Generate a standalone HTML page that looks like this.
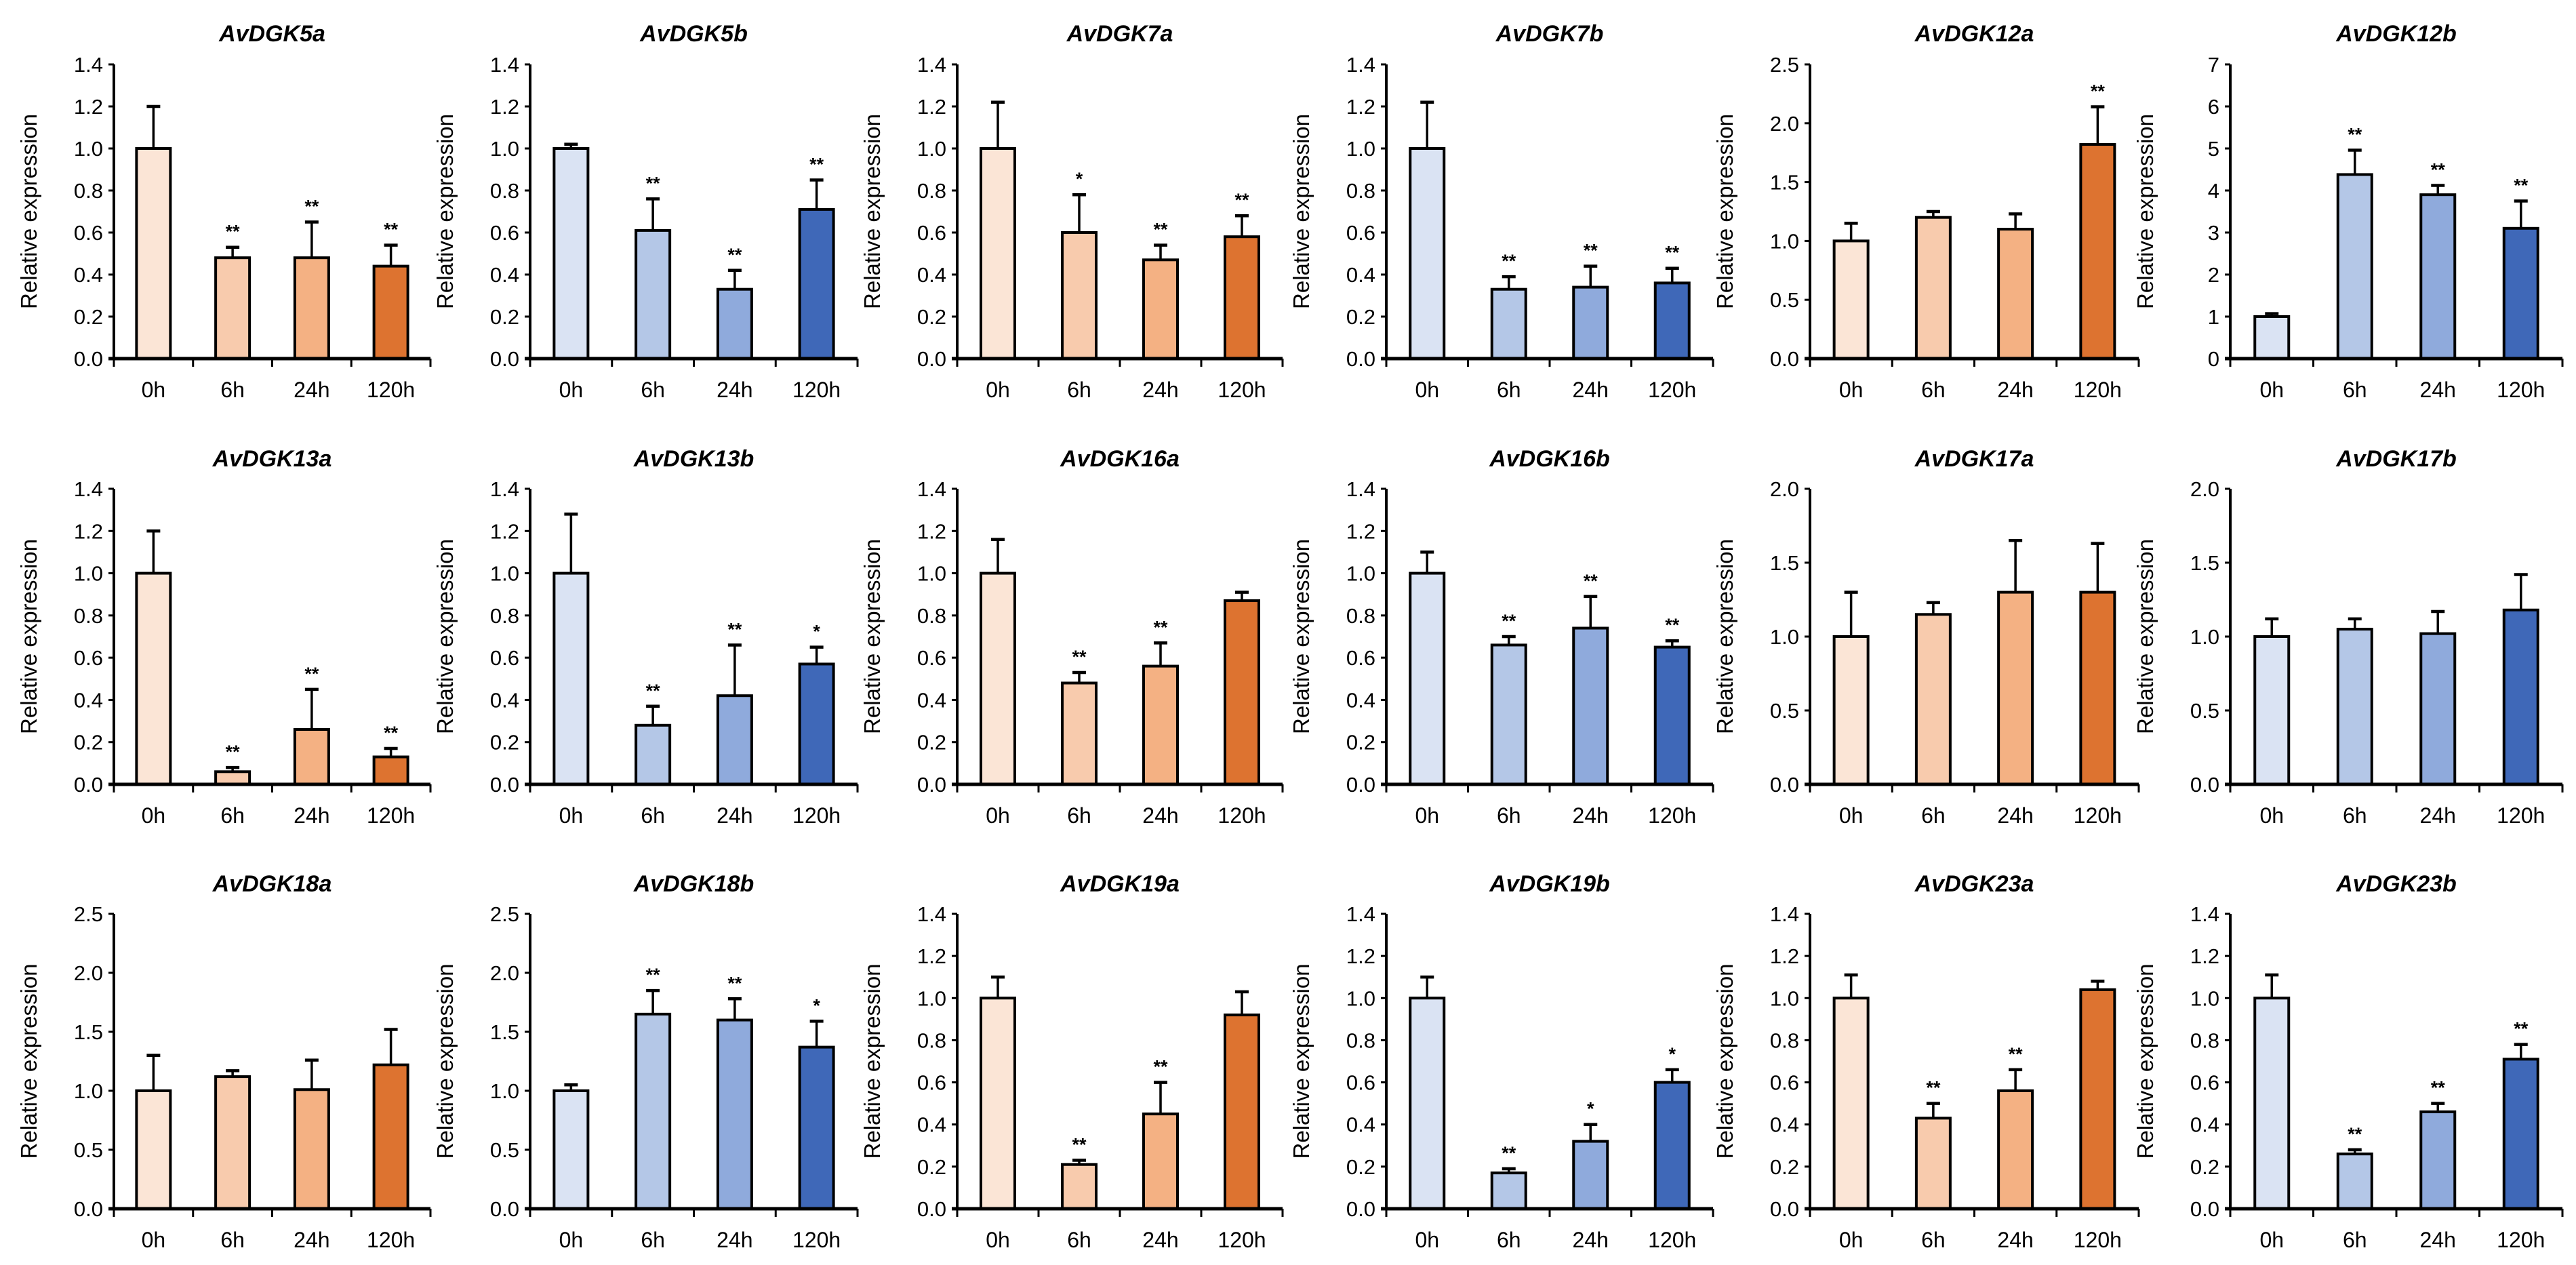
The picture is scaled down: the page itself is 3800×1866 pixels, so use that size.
<!DOCTYPE html>
<html><head><meta charset="utf-8"><style>
html,body{margin:0;padding:0;background:#fff;}
svg{display:block;font-family:"Liberation Sans",Arial,sans-serif;}
</style></head><body>
<svg id="chart" width="3800" height="1866" viewBox="0 0 3800 1866" xmlns="http://www.w3.org/2000/svg"></svg>
<script>
const categories = ["0h","6h","24h","120h"];
const genes = ["AvDGK5a","AvDGK5b","AvDGK7a","AvDGK7b","AvDGK12a","AvDGK12b","AvDGK13a","AvDGK13b","AvDGK16a","AvDGK16b","AvDGK17a","AvDGK17b","AvDGK18a","AvDGK18b","AvDGK19a","AvDGK19b","AvDGK23a","AvDGK23b"];
const values = [
 [1.0,0.48,0.48,0.44],[1.0,0.61,0.33,0.71],[1.0,0.60,0.47,0.58],[1.0,0.33,0.34,0.36],[1.0,1.20,1.10,1.82],[1.0,4.38,3.90,3.10],
 [1.0,0.06,0.26,0.13],[1.0,0.28,0.42,0.57],[1.0,0.48,0.56,0.87],[1.0,0.66,0.74,0.65],[1.0,1.15,1.30,1.30],[1.0,1.05,1.02,1.18],
 [1.0,1.12,1.01,1.22],[1.0,1.65,1.60,1.37],[1.0,0.21,0.45,0.92],[1.0,0.17,0.32,0.60],[1.0,0.43,0.56,1.04],[1.0,0.26,0.46,0.71]];
const errors = [
 [0.20,0.05,0.17,0.10],[0.02,0.15,0.09,0.14],[0.22,0.18,0.07,0.10],[0.22,0.06,0.10,0.07],[0.15,0.05,0.13,0.32],[0.07,0.58,0.22,0.65],
 [0.20,0.02,0.19,0.04],[0.28,0.09,0.24,0.08],[0.16,0.05,0.11,0.04],[0.10,0.04,0.15,0.03],[0.30,0.08,0.35,0.33],[0.12,0.07,0.15,0.24],
 [0.30,0.05,0.25,0.30],[0.05,0.20,0.18,0.22],[0.10,0.02,0.15,0.11],[0.10,0.02,0.08,0.06],[0.11,0.07,0.10,0.04],[0.11,0.02,0.04,0.07]];
const significance = [
 ["","**","**","**"],["","**","**","**"],["","*","**","**"],["","**","**","**"],["","","","**"],["","**","**","**"],
 ["","**","**","**"],["","**","**","*"],["","**","**",""],["","**","**","**"],["","","",""],["","","",""],
 ["","","",""],["","**","**","*"],["","**","**",""],["","**","*","*"],["","**","**",""],["","**","**","**"]];
const yMax = [1.4,1.4,1.4,1.4,2.5,7, 1.4,1.4,1.4,1.4,2.0,2.0, 2.5,2.5,1.4,1.4,1.4,1.4];
const yStep = [0.2,0.2,0.2,0.2,0.5,1, 0.2,0.2,0.2,0.2,0.5,0.5, 0.5,0.5,0.2,0.2,0.2,0.2];

const orange=["#fbe5d6","#f8cbad","#f4b183","#dd7330"];
const blue=["#dae3f3","#b4c7e7","#8faadc","#3f68b8"];
const colX=[168,782,1412,2045,2670,3290];
const colW=[467,483,480,482,485,490];
const rowTop=[95,721,1348], rowBot=[529,1157,1783], titleY=[49,676,1303];
const svg=document.getElementById('chart');
const NS="http://www.w3.org/2000/svg";
function mk(tag,attrs,parent){const e=document.createElementNS(NS,tag);for(const k in attrs)e.setAttribute(k,attrs[k]);(parent||svg).appendChild(e);return e;}

genes.forEach((g,i)=>{
  const r=Math.floor(i/6), c=i%6;
  const x0=colX[c], w=colW[c], top=rowTop[r], bot=rowBot[r];
  const grp=mk('g',{});
  
  
  const yS=v=>bot-(v/yMax[i])*(bot-top);
  const band=w/categories.length;
  const xC=k=>x0+band*(k+0.5);
  const pal=(i%2===0)?orange:blue;
  const t=mk('text',{x:x0+w/2,y:titleY[r]+12,'text-anchor':'middle','font-size':34,'font-weight':'bold','font-style':'italic',fill:'#000'},grp);
  t.textContent=g;
  
  
  const yl=mk('text',{x:0,y:0,transform:`translate(${x0-114},${(top+bot)/2}) rotate(-90)`,'text-anchor':'middle','font-size':33,fill:'#000'},grp);
  yl.textContent="Relative expression";
  
  
  const n=Math.round(yMax[i]/yStep[i]);
  const dec=yStep[i]>=1?0:1;
  for(let k=0;k<=n;k++){
    const v=k*yStep[i], y=yS(v);
    mk('line',{x1:x0-8,x2:x0,y1:y,y2:y,stroke:'#000','stroke-width':3},grp);
    const tl=mk('text',{x:x0-16,y:y+11,'text-anchor':'end','font-size':31,fill:'#000'},grp);
    tl.textContent=v.toFixed(dec);
    
    
  }
  categories.forEach((cat,k)=>{
    const v=values[i][k], e=errors[i][k], cx=xC(k), bw=50;
    const yt=yS(v+e);
    mk('line',{x1:cx,x2:cx,y1:yS(v),y2:yt,stroke:'#000','stroke-width':3.5},grp);
    mk('line',{x1:cx-10,x2:cx+10,y1:yt,y2:yt,stroke:'#000','stroke-width':4.5},grp);
    const b=mk('rect',{x:cx-bw/2,y:yS(v),width:bw,height:bot-yS(v),fill:pal[k],stroke:'#000','stroke-width':4},grp);
    
    
    if(significance[i][k]){
      const s=mk('text',{x:cx,y:yt-14,'text-anchor':'middle','font-size':27,'font-weight':'bold',fill:'#000'},grp);
      s.textContent=significance[i][k];
      
      
    }
    const xl=mk('text',{x:cx,y:bot+57,'text-anchor':'middle','font-size':32,fill:'#000'},grp);
    xl.textContent=cat;
    
    
  });
  for(let k=0;k<=categories.length;k++){
    const x=x0+band*k;
    mk('line',{x1:x,x2:x,y1:bot,y2:bot+12,stroke:'#000','stroke-width':3},grp);
  }
  const ya=mk('line',{x1:x0,x2:x0,y1:top,y2:bot,stroke:'#000','stroke-width':4},grp);
  
  
  const xa=mk('line',{x1:x0-8,x2:x0+w,y1:bot,y2:bot,stroke:'#000','stroke-width':5},grp);
  
  
});
</script>
</body></html>
